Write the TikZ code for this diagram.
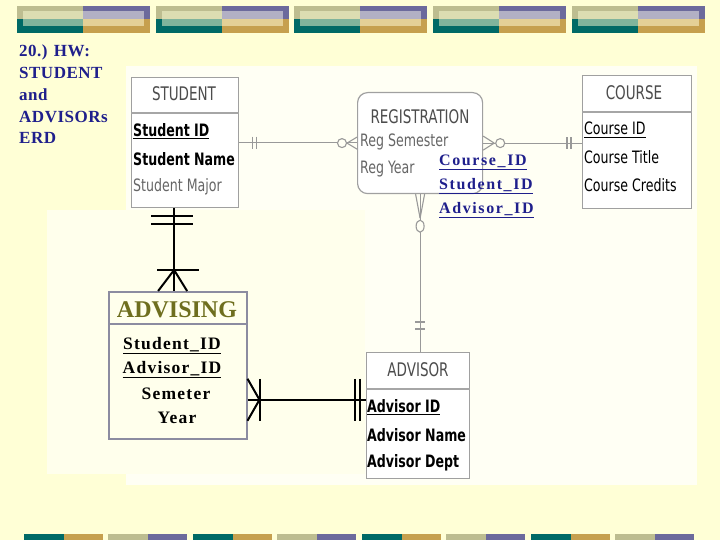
\documentclass[tikz,border=0pt]{standalone}
\usepackage{fontspec}
\setmainfont{Liberation Serif}
\newfontfamily\erdfont{DejaVu Sans Condensed}
\usepackage{tikz}
\usetikzlibrary{calc}

\definecolor{slidebg}{HTML}{FFFFD6}
\definecolor{panelbg}{HTML}{FFFFF4}
\definecolor{advpanel}{HTML}{FFFFEC}
\definecolor{navy}{HTML}{1F1F8C}
\definecolor{olivehd}{HTML}{6E6E1E}
\definecolor{advline}{HTML}{8C8CA0}
\definecolor{tblline}{HTML}{A0A0A0}
\definecolor{barteal}{HTML}{006A66}
\definecolor{bargold}{HTML}{C6A04E}
\definecolor{barolive}{HTML}{BDBD90}
\definecolor{barpurple}{HTML}{6C6A9C}
\definecolor{liteteal}{HTML}{80B49C}
\definecolor{litegold}{HTML}{E4D096}
\definecolor{liteolive}{HTML}{DCDDB2}
\definecolor{litepurple}{HTML}{B2B0C4}

\newcommand{\tall}[1]{\scalebox{1}[1.22]{#1}}

\begin{document}
\begin{tikzpicture}[
  x=1pt, y=-1pt,
  tbl/.style={draw=tblline, fill=white, line width=1.2pt, inner sep=0pt, anchor=north west},
  hdrsep/.style={draw=black!35, line width=2.5pt},
  hdr/.style={font=\erdfont\fontsize{15}{15}\selectfont, text=black!70, inner sep=0pt},
  attr/.style={font=\erdfont\bfseries\fontsize{14}{14}\selectfont, anchor=west, inner sep=0pt},
  mid/.style={attr, font=\erdfont\fontsize{14}{14}\selectfont},
  plain/.style={attr, font=\erdfont\fontsize{14}{14}\selectfont, text=black!60},
  fk/.style={font=\bfseries\fontsize{16}{16}\selectfont\addfontfeature{LetterSpace=10}, text=navy, anchor=base west, inner sep=0pt},
  advrow/.style={font=\bfseries\fontsize{17.5}{17.5}\selectfont\addfontfeature{LetterSpace=7}, anchor=base, inner sep=0pt},
  rel/.style={draw=black!40, line width=1.1pt},
  er/.style={draw=black, line width=2pt},
]
\useasboundingbox (0,0) rectangle (720,540);
\fill[slidebg] (0,0) rectangle (720,540);

% slide bars
\foreach \bx in {17,156,294,433,572} {
  \fill[barolive] (\bx,6) rectangle ++(66,13);
  \fill[barpurple] (\bx+66,6) rectangle ++(67,13);
  \fill[barteal] (\bx,19) rectangle ++(66,14);
  \fill[bargold] (\bx+66,19) rectangle ++(67,14);
  \fill[liteolive] (\bx+6,11.5) rectangle (\bx+66,19);
  \fill[litepurple] (\bx+66,11.5) rectangle (\bx+127,19);
  \fill[liteteal] (\bx+6,19) rectangle (\bx+66,26);
  \fill[litegold] (\bx+66,19) rectangle (\bx+127,26);
}
\foreach \bx in {24,193,362,531} {
  \fill[barteal] (\bx,534) rectangle ++(40,6);
  \fill[bargold] (\bx+40,534) rectangle ++(39,6);
}
\foreach \bx in {108,277,446,615} {
  \fill[barolive] (\bx,534) rectangle ++(40,6);
  \fill[barpurple] (\bx+40,534) rectangle ++(39,6);
}

\node[anchor=north west, align=left, inner sep=0pt, text=navy,
  font=\bfseries\fontsize{17}{21.7}\selectfont\addfontfeature{LetterSpace=3}] (title) at (19,45)
  {20.) HW:\\STUDENT\\and\\ADVISORs\\ERD};

\fill[panelbg] (126,66) rectangle (697,485);
\fill[advpanel] (47,210) rectangle (365,474);

% entities
\node[tbl, minimum width=107pt, minimum height=130pt] (student) at (131,77) {};
\draw[hdrsep] ([yshift=-36pt]student.north west) -- ([yshift=-36pt]student.north east);
\node[hdr] (studenthd) at (184,94) {\scalebox{1}[1.25]{STUDENT}};
\node[attr] (sid) at (133,131) {\tall{\underline{Student ID}}};
\node[attr] (sname) at (133,159) {\tall{Student Name}};
\node[plain] (smajor) at (133,187) {\tall{Student Major}};

\node[tbl, rounded corners=10pt, minimum width=125pt, minimum height=101pt] (reg) at (357,92) {};
\node[hdr] (reghd) at (420,117) {\scalebox{1}[1.25]{REGISTRATION}};
\node[plain] (rsem) at (360,142) {\tall{Reg Semester}};
\node[plain] (ryear) at (360,169) {\tall{Reg Year}};

\node[tbl, minimum width=109pt, minimum height=133pt] (course) at (582,75) {};
\draw[hdrsep] ([yshift=-37pt]course.north west) -- ([yshift=-37pt]course.north east);
\node[hdr] (coursehd) at (634,93) {\scalebox{1}[1.25]{COURSE}};
\node[mid] (cid) at (584,130) {\tall{\underline{Course ID}}};
\node[mid] (ctitle) at (584,157) {\tall{Course Title}};
\node[mid] (ccred) at (584,185) {\tall{Course Credits}};

\node[tbl, minimum width=103pt, minimum height=126pt] (advisor) at (366,352) {};
\draw[hdrsep] ([yshift=-37pt]advisor.north west) -- ([yshift=-37pt]advisor.north east);
\node[hdr] (advisorhd) at (418,370) {\scalebox{1}[1.25]{ADVISOR}};
\node[attr] (aid) at (367,407) {\tall{\underline{Advisor ID}}};
\node[attr] (aname) at (367,435) {\tall{Advisor Name}};
\node[attr] (adept) at (367,463) {\tall{Advisor Dept}};

\node[fk] (fkcourse) at (439,166) {\underline{Course\_ID}};
\node[fk] (fkstudent) at (439,190) {\underline{Student\_ID}};
\node[fk] (fkadvisor) at (439,214) {\underline{Advisor\_ID}};

\node[tbl, draw=advline, fill=advpanel, line width=1.5pt, minimum width=138pt, minimum height=147pt] (advising) at (108,291) {};
\draw[draw=advline, line width=1.5pt] ([yshift=-33pt]advising.north west) -- ([yshift=-33pt]advising.north east);
\node[inner sep=0pt, text=olivehd, font=\bfseries\fontsize{24}{24}\selectfont] (advisinghd) at (177,310) {ADVISING};
\node[advrow] (vsid) at (172,349) {\underline{Student\_ID}};
\node[advrow] (vaid) at (172,373) {\underline{Advisor\_ID}};
\node[advrow] (vsem) at (176,399) {Semeter};
\node[advrow] (vyear) at (177,423) {Year};

% relationships
\draw[rel] (student.east) -- (student.east -| reg.west);
\draw[rel] ([xshift=13pt]student.east) ++(0,-6) -- ++(0,12);
\draw[rel] ([xshift=17pt]student.east) ++(0,-6) -- ++(0,12);
\draw[rel] ([xshift=-10pt]reg.west) -- ([yshift=6pt]reg.west);
\draw[rel] ([xshift=-10pt]reg.west) -- ([yshift=-6pt]reg.west);
\draw[rel, fill=panelbg] ([xshift=-15pt]reg.west) circle[radius=4.5pt];

\draw[rel] (reg.east) -- (reg.east -| course.west);
\draw[rel] ([xshift=11pt]reg.east) -- ([yshift=7pt]reg.east);
\draw[rel] ([xshift=11pt]reg.east) -- ([yshift=-7pt]reg.east);
\draw[rel, fill=panelbg] ([xshift=17pt]reg.east) circle[radius=4.5pt];
\draw[rel] ([xshift=-15pt]reg.east -| course.west) ++(0,-6) -- ++(0,12);
\draw[rel] ([xshift=-11pt]reg.east -| course.west) ++(0,-6) -- ++(0,12);

\coordinate (advtop) at (reg.south |- advisor.north);
\draw[rel] (reg.south) -- (advtop);
\draw[rel] ([yshift=-24pt]reg.south) -- ([xshift=-4.5pt]reg.south);
\draw[rel] ([yshift=-24pt]reg.south) -- ([xshift=4.5pt]reg.south);
\draw[rel, fill=panelbg] ([yshift=-32pt]reg.south) ellipse[x radius=4pt, y radius=6pt];
\draw[rel] ([yshift=30pt]advtop) ++(-5,0) -- ++(10,0);
\draw[rel] ([yshift=23pt]advtop) ++(-5,0) -- ++(10,0);

\coordinate (stubot) at ([xshift=-11pt]student.south);
\coordinate (advtopl) at (stubot |- advising.north);
\draw[er] (stubot) -- (advtopl);
\draw[er] ([yshift=-8pt]stubot) ++(-23,0) -- ++(42,0);
\draw[er] ([yshift=-16pt]stubot) ++(-23,0) -- ++(42,0);
\draw[er] ([yshift=21pt]advtopl) ++(-17,0) -- ++(42,0);
\draw[er] ([xshift=-16pt]advtopl) -- ([yshift=21pt]advtopl) -- ([xshift=13pt]advtopl);

\coordinate (advr) at ([yshift=-34.5pt]advising.east);
\coordinate (advl) at (advr -| advisor.west);
\draw[er] (advr) -- (advl);
\draw[er] ([yshift=21pt]advr) -- ([xshift=12pt]advr) -- ([yshift=-21pt]advr);
\draw[er] ([xshift=12pt]advr) ++(0,-21) -- ++(0,42);
\draw[er] ([xshift=-11pt]advl) ++(0,-21) -- ++(0,42);
\draw[er] ([xshift=-6pt]advl) ++(0,-21) -- ++(0,42);

\end{tikzpicture}
\end{document}
